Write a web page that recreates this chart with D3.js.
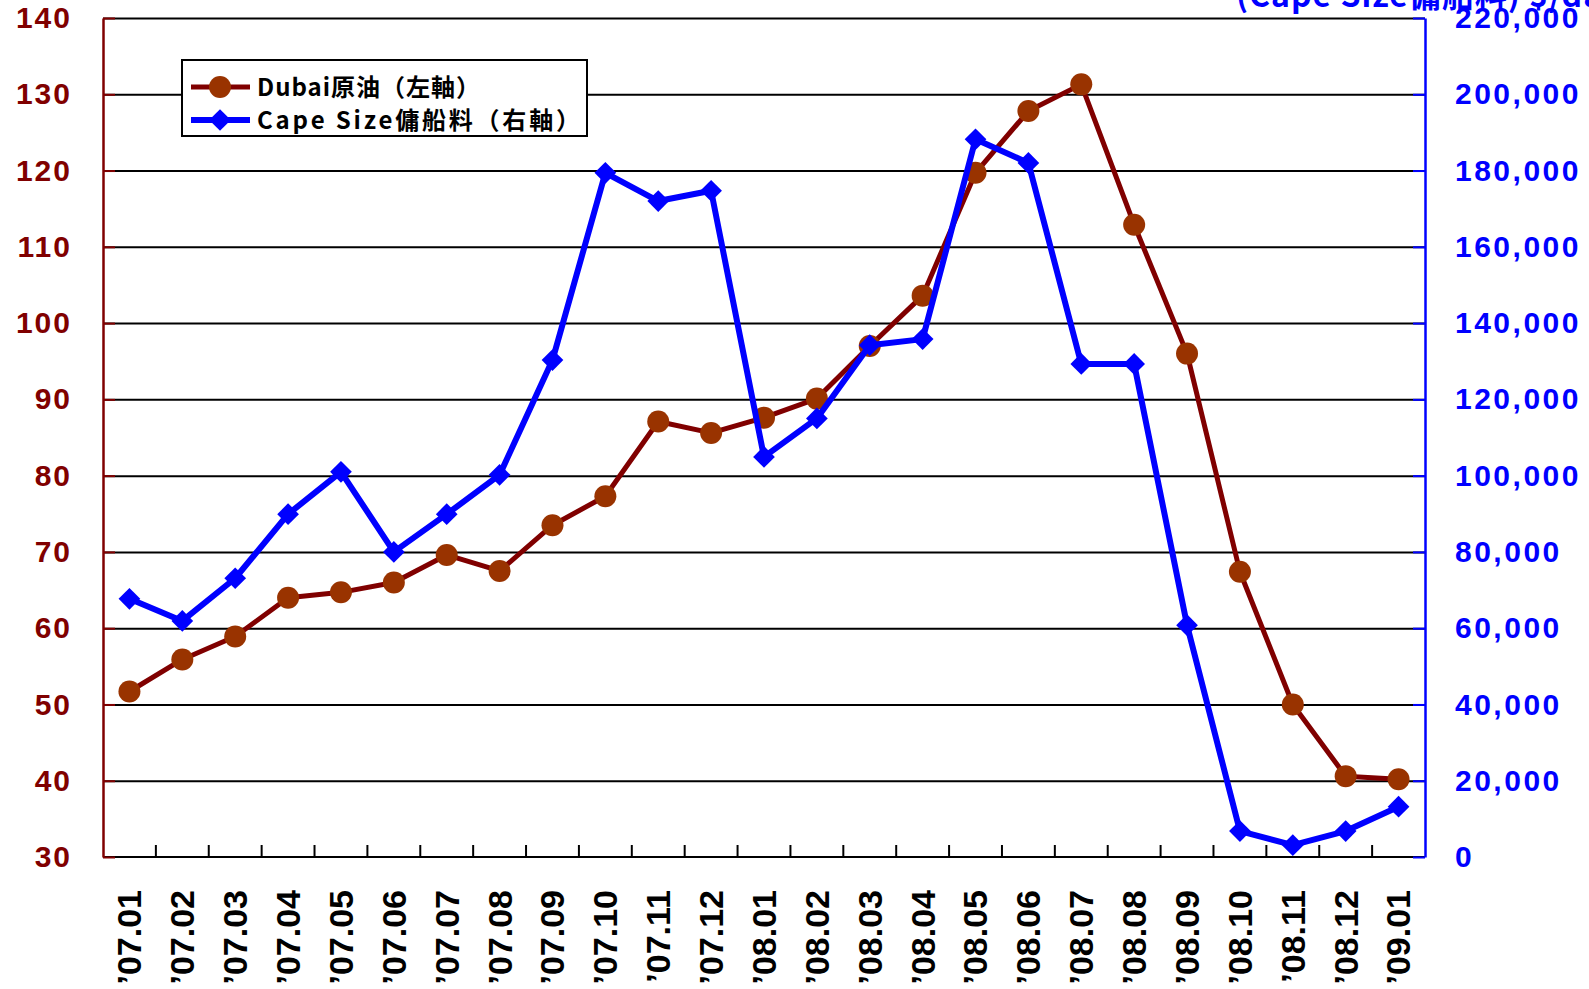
<!DOCTYPE html>
<html>
<head>
<meta charset="utf-8">
<script src="https://cdn.jsdelivr.net/npm/d3@7"></script>
<style>
  html, body { margin: 0; padding: 0; background: #fff; overflow: hidden; }
  svg { display: block; }
  .num { font-family: "Liberation Sans", Arial, sans-serif; font-weight: bold; }
  .jp { font-family: "Noto Sans CJK JP", "Noto Sans", sans-serif; font-weight: bold; }
</style>
</head>
<body>
<svg id="chart"></svg>
<script>
var months = ["’07.01","’07.02","’07.03","’07.04","’07.05","’07.06","’07.07","’07.08","’07.09","’07.10","’07.11","’07.12",
              "’08.01","’08.02","’08.03","’08.04","’08.05","’08.06","’08.07","’08.08","’08.09","’08.10","’08.11","’08.12","’09.01"];
// Dubai crude, $/bbl (left axis)
var dubai = [51.7, 55.9, 58.9, 64.0, 64.7, 66.0, 69.6, 67.5, 73.5, 77.3, 87.1, 85.6,
             87.6, 90.1, 97.0, 103.6, 119.7, 127.8, 131.3, 112.9, 96.0, 67.4, 50.0, 40.6, 40.2];
// Cape Size charter rate, $/day (right axis)
var capesize = [67700, 61900, 73100, 89900, 101000, 80000, 89900, 100200, 130300, 179400, 172000, 174700,
                104900, 115000, 134200, 135800, 188200, 182000, 129300, 129300, 60800, 6800, 3100, 6800, 13200];
var leftTicks = [30, 40, 50, 60, 70, 80, 90, 100, 110, 120, 130, 140];
var rightTicks = [0, 20000, 40000, 60000, 80000, 100000, 120000, 140000, 160000, 180000, 200000, 220000];
var legendLabels = ["Dubai原油（左軸）", "Cape Size傭船料（右軸）"];
var rightTitle = "(Cape Size傭船料) $/day";

var width = 1589, height = 989;
var x0 = 103, x1 = 1425, y0 = 18, y1 = 857;
var darkRed = "#800000", rust = "#993300", blue = "#0000ff";

var svg = d3.select("#chart").attr("width", width).attr("height", height);

var x = d3.scaleBand().domain(months).range([x0, x1]).padding(0);
var yL = d3.scaleLinear().domain([30, 140]).range([y1, y0]);
var yR = d3.scaleLinear().domain([0, 220000]).range([y1, y0]);
var cx = function(i) { return x(months[i]) + x.bandwidth() / 2; };

// title on top right (clipped by the page edge as in the original)
svg.append("text")
  .attr("class", "jp")
  .attr("x", 1236).attr("y", 7)
  .style("font-size", "32px")
  .style("letter-spacing", "1px")
  .style("fill", blue)
  .text(rightTitle);

// gridlines
var grid = svg.append("g")
  .attr("transform", "translate(" + x0 + ",0)")
  .call(d3.axisRight(yL).tickValues(leftTicks.slice(1)).tickSize(x1 - x0).tickFormat(""));
grid.select(".domain").remove();
grid.selectAll("line").attr("stroke", "#000").attr("stroke-width", 2);

// x axis: labels
var xAxis = svg.append("g")
  .attr("transform", "translate(0," + y1 + ")")
  .call(d3.axisBottom(x).tickSizeInner(0).tickSizeOuter(0));
xAxis.select(".domain").remove();
xAxis.selectAll("text")
  .attr("class", "num")
  .attr("transform", "rotate(-90)")
  .attr("x", -33).attr("y", 0).attr("dy", "0.35em")
  .style("text-anchor", "end")
  .style("font-size", "34px")
  .style("fill", "#000");

// x axis line and inward ticks at category boundaries
svg.append("line")
  .attr("x1", x0).attr("x2", x1).attr("y1", y1).attr("y2", y1)
  .attr("stroke", "#000").attr("stroke-width", 2);
svg.append("g").selectAll("line")
  .data(months.slice(1))
  .join("line")
  .attr("x1", function(d) { return x(d); }).attr("x2", function(d) { return x(d); })
  .attr("y1", y1).attr("y2", y1 - 12)
  .attr("stroke", "#000").attr("stroke-width", 2);

// left axis
var yAxisL = svg.append("g")
  .attr("transform", "translate(" + x0 + ",0)")
  .call(d3.axisLeft(yL).tickValues(leftTicks).tickSizeInner(-12).tickSizeOuter(0).tickPadding(31));
yAxisL.select(".domain").attr("stroke", darkRed).attr("stroke-width", 2.5);
yAxisL.selectAll("line").attr("stroke", darkRed).attr("stroke-width", 2);
yAxisL.selectAll("text")
  .attr("class", "num")
  .style("font-size", "30px")
  .style("letter-spacing", "2px")
  .style("fill", darkRed);

// right axis
var yAxisR = svg.append("g")
  .attr("transform", "translate(" + x1 + ",0)")
  .call(d3.axisRight(yR).tickValues(rightTicks).tickSizeInner(-12).tickSizeOuter(0).tickPadding(30)
    .tickFormat(d3.format(",")));
yAxisR.select(".domain").attr("stroke", blue).attr("stroke-width", 2.5);
yAxisR.selectAll("line").attr("stroke", blue).attr("stroke-width", 2);
yAxisR.selectAll("text")
  .attr("class", "num")
  .style("font-size", "30px")
  .style("letter-spacing", "2.5px")
  .style("fill", blue);

// series
var lineL = d3.line().x(function(d, i) { return cx(i); }).y(function(d) { return yL(d); });
var lineR = d3.line().x(function(d, i) { return cx(i); }).y(function(d) { return yR(d); });
var diamond = d3.symbol().type(d3.symbolDiamond2).size(300);

svg.append("path")
  .datum(dubai)
  .attr("d", lineL)
  .attr("fill", "none").attr("stroke", darkRed).attr("stroke-width", 5)
  .attr("stroke-linejoin", "round");
svg.append("g").selectAll("circle")
  .data(dubai)
  .join("circle")
  .attr("cx", function(d, i) { return cx(i); })
  .attr("cy", function(d) { return yL(d); })
  .attr("r", 11)
  .attr("fill", rust);

svg.append("path")
  .datum(capesize)
  .attr("d", lineR)
  .attr("fill", "none").attr("stroke", blue).attr("stroke-width", 6)
  .attr("stroke-linejoin", "round");
svg.append("g").selectAll("path")
  .data(capesize)
  .join("path")
  .attr("transform", function(d, i) { return "translate(" + cx(i) + "," + yR(d) + ")"; })
  .attr("d", diamond)
  .attr("fill", blue);

// legend
var legend = svg.append("g");
legend.append("rect")
  .attr("x", 182).attr("y", 60).attr("width", 405).attr("height", 76)
  .attr("fill", "#fff").attr("stroke", "#000").attr("stroke-width", 2);

var lg0 = legend.append("g").attr("transform", "translate(0,87)");
lg0.append("line").attr("x1", 191).attr("x2", 250).attr("stroke", darkRed).attr("stroke-width", 5);
lg0.append("circle").attr("cx", 220).attr("r", 11).attr("fill", rust);
lg0.append("text").attr("class", "jp").attr("x", 257).attr("dy", "0.36em")
  .style("font-size", "24px").style("letter-spacing", "1px").text(legendLabels[0]);

var lg1 = legend.append("g").attr("transform", "translate(0,120)");
lg1.append("line").attr("x1", 191).attr("x2", 250).attr("stroke", blue).attr("stroke-width", 6);
lg1.append("path").attr("transform", "translate(220,0)").attr("d", diamond).attr("fill", blue);
lg1.append("text").attr("class", "jp").attr("x", 257).attr("dy", "0.36em")
  .style("font-size", "24px").style("letter-spacing", "2.8px").text(legendLabels[1]);
</script>
</body>
</html>
